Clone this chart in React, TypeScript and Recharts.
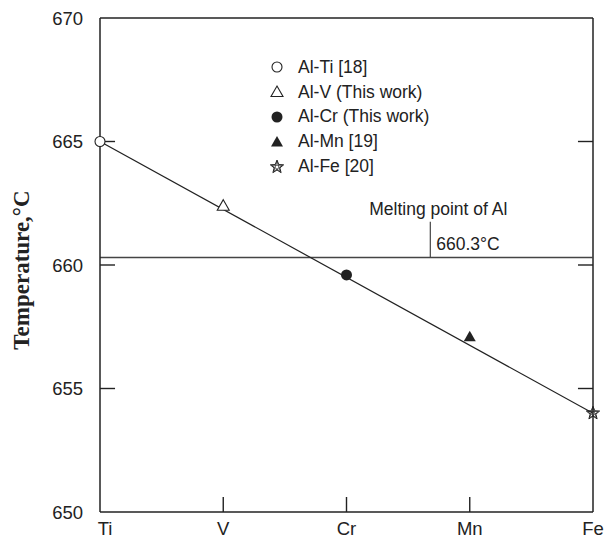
import {
  ComposedChart,
  Scatter,
  XAxis,
  YAxis,
  ReferenceLine,
  Legend,
} from "recharts";

const elements = ["Ti", "V", "Cr", "Mn", "Fe"];
const temps = [665, 662.4, 659.6, 657.1, 654.0];
const markers = ["circleOpen", "triangleOpen", "circleFilled", "triangleFilled", "star"];
const sources = ["Al-Ti [18]", "Al-V (This work)", "Al-Cr (This work)", "Al-Mn [19]", "Al-Fe [20]"];
const yTicks = [650, 655, 660, 665, 670];
const innerYTicks = [655, 660, 665];
const xTicks = [0, 1, 2, 3, 4];
const fitLine = [665, 654];
const meltingPoint = 660.3;
const meltLabel = "Melting point of Al";
const meltValue = "660.3°C";
const meltMarkX = 2.68;
const meltMarkTop = 661.75;

const INK = "#222";
const SANS = "'Liberation Sans', Arial, sans-serif";
const TICK_LEN = 0.122; // inward tick length in x units (~15px)

const data = elements.map((el, i) => ({ x: i, y: temps[i], el, marker: markers[i] }));

const Marker = ({ kind, cx, cy }: { kind: string; cx: number; cy: number }) => {
  if (kind === "circleOpen")
    return <circle cx={cx} cy={cy} r={5} fill="#fff" stroke={INK} strokeWidth={1.1} />;
  if (kind === "circleFilled") return <circle cx={cx} cy={cy} r={5.5} fill={INK} />;
  if (kind === "triangleOpen" || kind === "triangleFilled") {
    const d = `M${cx},${cy - 6} L${cx + 6},${cy + 4.5} L${cx - 6},${cy + 4.5} Z`;
    return kind === "triangleOpen" ? (
      <path d={d} fill="#fff" stroke={INK} strokeWidth={1.1} />
    ) : (
      <path d={d} fill={INK} />
    );
  }
  // star: outline plus inner pentagram lines
  const R = 7;
  const r = 3;
  const outer: string[] = [];
  for (let k = 0; k < 10; k++) {
    const a = (-90 + k * 36) * (Math.PI / 180);
    const rr = k % 2 === 0 ? R : r;
    outer.push(`${cx + rr * Math.cos(a)},${cy + rr * Math.sin(a)}`);
  }
  const pent: string[] = [];
  for (let k = 0; k < 5; k++) {
    const a = (-90 + k * 144) * (Math.PI / 180);
    pent.push(`${cx + R * 0.8 * Math.cos(a)},${cy + R * 0.8 * Math.sin(a)}`);
  }
  return (
    <g fill="none" stroke={INK} strokeWidth={1}>
      <polygon points={outer.join(" ")} />
      <polygon points={pent.join(" ")} strokeWidth={0.7} />
    </g>
  );
};

const LeftTick = (props: any) => {
  const x = Number(props.x);
  const y = Number(props.y);
  return (
    <text x={x} y={y} textAnchor="end" dominantBaseline="central" fontSize={18.5} fontFamily={SANS} fill={INK}>
      {props.payload.value}
    </text>
  );
};

const BottomTick = (props: any) => {
  const x = Number(props.x);
  const y = Number(props.y);
  const i = Number(props.payload.value);
  return (
    <g>
      <text
        x={x + (i === 0 ? 5 : 0)}
        y={y + 16}
        textAnchor="middle"
        dominantBaseline="central"
        fontSize={18.5}
        fontFamily={SANS}
        fill={INK}
      >
        {elements[i]}
      </text>
      {i > 0 && i < 4 && <path d={`M${x},${y} V${y - 15}`} stroke={INK} strokeWidth={1.4} fill="none" />}
    </g>
  );
};

const YLabel = (props: any) => {
  const { viewBox } = props;
  const cx = viewBox.x + 21;
  const cy = viewBox.y + viewBox.height / 2 + 5;
  return (
    <text
      x={cx}
      y={cy}
      transform={`rotate(-90 ${cx} ${cy})`}
      textAnchor="middle"
      dominantBaseline="central"
      fontSize={23}
      fontWeight="bold"
      fontFamily="'Liberation Serif', 'Times New Roman', serif"
      fill={INK}
    >
      Temperature,°C
    </text>
  );
};

const MeltLabel = (props: any) => {
  const { viewBox } = props;
  const x = viewBox.x;
  const top = viewBox.y;
  const bottom = viewBox.y + viewBox.height;
  return (
    <g fontFamily={SANS} fill={INK}>
      <text x={x + 8} y={top - 13} textAnchor="middle" dominantBaseline="central" fontSize={17.5}>
        {meltLabel}
      </text>
      <text x={x + 6} y={bottom - 14} textAnchor="start" dominantBaseline="central" fontSize={17.5}>
        {meltValue}
      </text>
    </g>
  );
};

const LegendBox = () => (
  <div style={{ fontFamily: SANS, fontSize: 17.5, color: INK }}>
    {sources.map((s, i) => (
      <div key={s} style={{ display: "flex", alignItems: "center", height: 24.8 }}>
        <svg width={30} height={24} style={{ flex: "none" }}>
          <Marker kind={markers[i]} cx={9} cy={12} />
        </svg>
        <span style={{ whiteSpace: "nowrap" }}>{s}</span>
      </div>
    ))}
  </div>
);

export default function App() {
  return (
    <div style={{ position: "absolute", left: 0, top: 0, width: 610, height: 539, background: "#fff" }}>
      <ComposedChart width={610} height={539} margin={{ top: 18, right: 17, bottom: 0, left: 0 }}>
        <XAxis
          type="number"
          dataKey="x"
          domain={[0, 4]}
          ticks={xTicks}
          height={27}
          tickSize={0}
          tickMargin={0}
          tickLine={false}
          axisLine={{ stroke: INK, strokeWidth: 1.5 }}
          tick={<BottomTick />}
          interval={0}
        />
        <YAxis
          type="number"
          dataKey="y"
          domain={[650, 670]}
          ticks={yTicks}
          width={100}
          tickSize={0}
          tickMargin={17}
          tickLine={false}
          axisLine={{ stroke: INK, strokeWidth: 1.5 }}
          tick={<LeftTick />}
          interval={0}
          label={{ content: <YLabel /> }}
        />
        <ReferenceLine y={670} stroke={INK} strokeWidth={1.5} />
        <ReferenceLine x={4} stroke={INK} strokeWidth={1.5} />
        {innerYTicks.map((v) => (
          <ReferenceLine
            key={`l${v}`}
            segment={[
              { x: 0, y: v },
              { x: TICK_LEN, y: v },
            ]}
            stroke={INK}
            strokeWidth={1.4}
          />
        ))}
        {innerYTicks.map((v) => (
          <ReferenceLine
            key={`r${v}`}
            segment={[
              { x: 4 - TICK_LEN, y: v },
              { x: 4, y: v },
            ]}
            stroke={INK}
            strokeWidth={1.4}
          />
        ))}
        <ReferenceLine y={meltingPoint} stroke="#444" strokeWidth={1.5} />
        <ReferenceLine
          segment={[
            { x: meltMarkX, y: meltingPoint },
            { x: meltMarkX, y: meltMarkTop },
          ]}
          stroke="#444"
          strokeWidth={1.2}
          label={{ content: <MeltLabel /> }}
        />
        <ReferenceLine
          segment={[
            { x: 0, y: fitLine[0] },
            { x: 4, y: fitLine[1] },
          ]}
          stroke={INK}
          strokeWidth={1.2}
        />
        <Scatter
          data={data}
          isAnimationActive={false}
          shape={(p: any) => <Marker kind={p.payload.marker} cx={p.cx} cy={p.cy} />}
        />
        <Legend
          layout="vertical"
          align="center"
          verticalAlign="middle"
          wrapperStyle={{ position: "absolute", left: 268, top: 55, width: 220 }}
          content={() => <LegendBox />}
        />
      </ComposedChart>
    </div>
  );
}
